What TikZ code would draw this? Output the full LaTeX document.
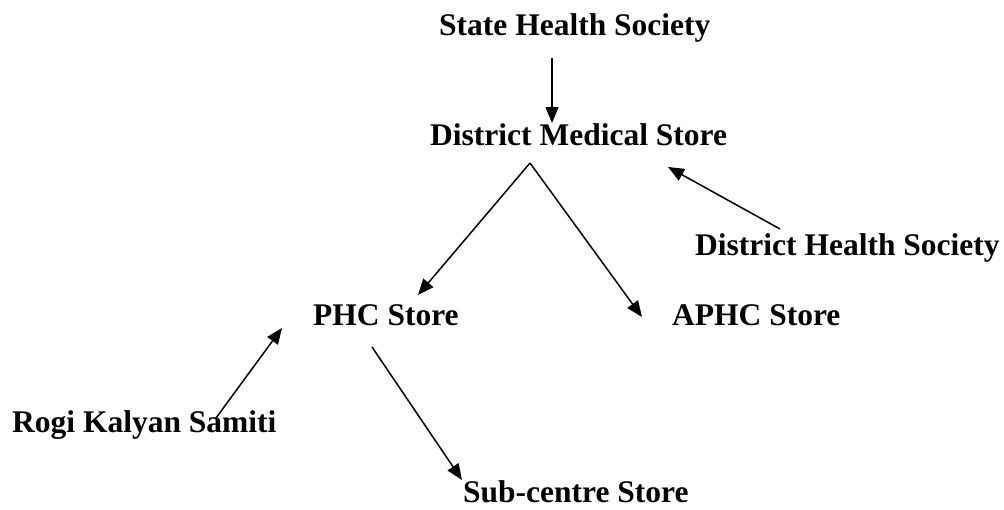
\documentclass[tikz,border=0pt]{standalone}
\usepackage{fontspec}
\setmainfont{Liberation Serif}
\usetikzlibrary{arrows.meta}
\tikzset{
  lbl/.style={font=\fontsize{31.5}{37}\selectfont\bfseries, inner sep=0pt, anchor=base west},
  arr/.style={line width=1.5pt, -{Triangle[length=16pt,width=13pt]}}
}
\begin{document}
\begin{tikzpicture}[x=1pt,y=-1pt]
\useasboundingbox (0,0) rectangle (1004,509);
\node[lbl] (shs) at (439,35) {State Health Society};
\node[lbl] (dms) at (430,145) {District Medical Store};
\node[lbl] (dhs) at (695,255) {District Health Society};
\node[lbl] (phc) at (313,325) {PHC Store};
\node[lbl] (aphc) at (672,325) {APHC Store};
\node[lbl] (rks) at (12,432) {Rogi Kalyan Samiti};
\node[lbl] (sub) at (463,502) {Sub-centre Store};
\coordinate (shsout) at (552,58);
\coordinate (dmsin) at (552,123);
\coordinate (apex) at (530,163);
\coordinate (phcin) at (418,295);
\coordinate (aphcin) at (642,317);
\coordinate (dhsout) at (780,229);
\coordinate (dmsin2) at (668,167);
\coordinate (rksout) at (216,418);
\coordinate (phcin2) at (282,328);
\coordinate (phcout) at (372,347);
\coordinate (subin) at (462,480);
\draw[arr] (shsout) -- (dmsin);
\draw[arr] (apex) -- (phcin);
\draw[arr] (apex) -- (aphcin);
\draw[arr] (dhsout) -- (dmsin2);
\draw[arr] (rksout) -- (phcin2);
\draw[arr] (phcout) -- (subin);
\end{tikzpicture}
\end{document}
